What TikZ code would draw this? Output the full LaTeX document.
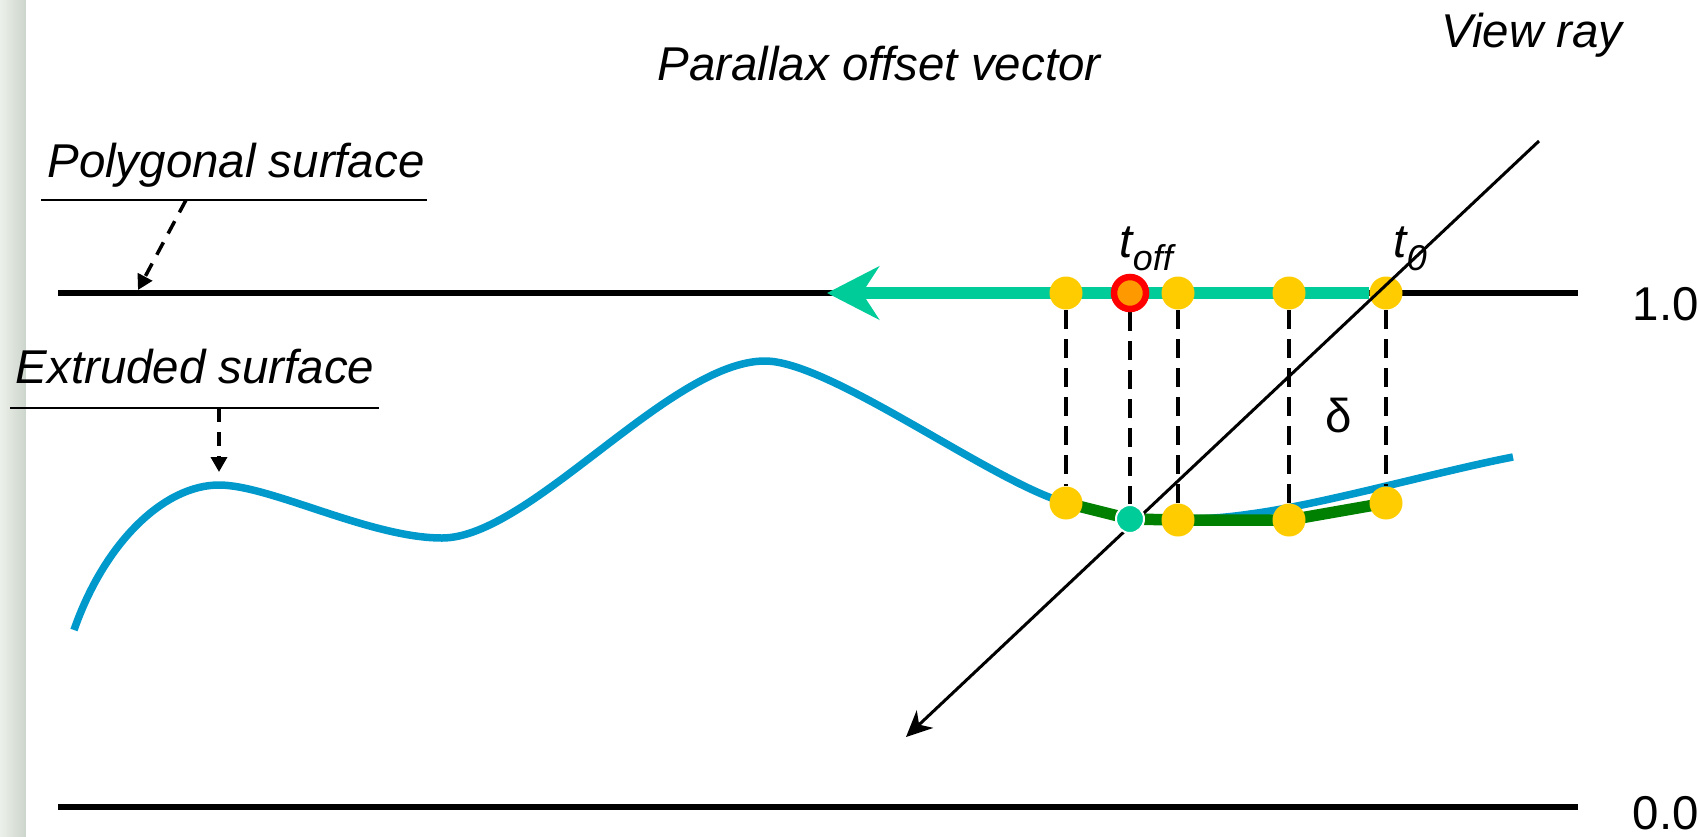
\documentclass[tikz,border=0pt]{standalone}
\usepackage{fontspec}
\setmainfont{Liberation Sans}
\usetikzlibrary{arrows.meta}

\definecolor{offsetgreen}{RGB}{0,204,153}
\definecolor{surfblue}{RGB}{0,153,204}
\definecolor{dotyellow}{RGB}{255,204,0}
\definecolor{dotorange}{RGB}{255,153,0}
\definecolor{stepgreen}{RGB}{0,128,0}
\definecolor{stripa}{RGB}{236,240,234}
\definecolor{stripb}{RGB}{204,213,203}

\pgfdeclarelayer{back}
\pgfsetlayers{back,main}

\begin{document}
\begin{tikzpicture}[
    txt/.style={font=\fontsize{13.5pt}{16pt}\selectfont, inner sep=0pt, anchor=base},
    itxt/.style={txt, font=\fontsize{13.5pt}{16pt}\selectfont\itshape},
    ydot/.style={circle, fill=dotyellow, inner sep=0pt, minimum size=0.33cm},
    rdot/.style={circle, draw=red, line width=0.065cm, fill=dotorange, inner sep=0pt, minimum size=0.32cm},
    cdot/.style={circle, draw=white, line width=0.02cm, fill=offsetgreen, inner sep=0pt, minimum size=0.28cm},
    drop/.style={line width=0.045cm, dash pattern=on 0.19cm off 0.1cm},
    hint/.style={line width=0.035cm, dash pattern=on 0.14cm off 0.1cm, -{Triangle[length=0.15cm, width=0.16cm]}},
    level/.style={line width=0.055cm},
    under/.style={line width=0.025cm}
  ]
  \useasboundingbox (0,0) rectangle (17,8.36);

  % slide edge
  \shade[left color=stripa, right color=stripb] (0,0) rectangle (0.26,8.36);

  % titles
  \node[itxt] (parallax) at (8.79,7.56) {Parallax offset vector};
  \node[itxt] (viewray) at (15.32,7.89) {View ray};
  \node[itxt] (polylbl) at (2.36,6.59) {Polygonal surface};
  \node[itxt] (extlbl) at (1.95,4.53) {Extruded surface};
  \node[txt, anchor=base west] (one) at (16.32,5.16) {1.0};
  \node[txt, anchor=base west] (zero) at (16.32,0.07) {0.0};

  % pointers to the surfaces
  \draw[under] (0.41,6.36) -- (4.27,6.36);
  \coordinate (polyfrom) at (1.86,6.36);
  \coordinate (polyto) at (1.38,5.46);
  \draw[hint] (polyfrom) -- (polyto);
  \draw[under] (0.10,4.28) -- (3.79,4.28);
  \coordinate (extfrom) at (2.19,4.28);
  \coordinate (extto) at (2.19,3.64);
  \draw[hint] (extfrom) -- (extto);

  % samples on the polygon and on the height field
  \foreach \n/\x in {1/10.66, 3/11.78, 4/12.89, 5/13.86}
    \node[ydot] (a\n) at (\x,5.43) {};
  \node[rdot] (toff) at (11.30,5.43) {};
  \foreach \n/\x/\y in {1/10.66/3.33, 3/11.78/3.16, 4/12.89/3.16, 5/13.86/3.33}
    \node[ydot] (b\n) at (\x,\y) {};

  % view ray
  \coordinate (raytop) at (15.39,6.95);
  \coordinate (rayend) at (9.06,0.99);
  \draw[line width=0.03cm, -{Stealth[length=0.26cm, width=0.24cm, inset=0.08cm]}] (raytop) -- (rayend);

  % hit point
  \node[cdot] (bc) at (11.30,3.17) {};

  \node[itxt, anchor=base west] (tofflbl) at (11.19,5.79) {t\raisebox{-0.13cm}{\fontsize{10.2pt}{12pt}\selectfont off}};
  \node[itxt, anchor=base west] (t0lbl) at (13.93,5.79) {t\raisebox{-0.13cm}{\fontsize{10.2pt}{12pt}\selectfont 0}};
  \node[txt] (delta) at (13.39,4.04) {δ};

  \begin{pgfonlayer}{back}
    % levels 1.0 and 0.0
    \draw[level] (0.58,5.43) -- (15.78,5.43);
    \draw[level] (0.58,0.29) -- (15.78,0.29);

    % extruded height field
    \draw[surfblue, line width=0.075cm]
      (0.74,2.06) .. controls (1.05,2.95) and (1.65,3.51) .. (2.19,3.51)
      .. controls (2.7,3.51) and (3.7,2.98) .. (4.42,2.98)
      .. controls (5.3,2.98) and (6.7,4.75) .. (7.65,4.75)
      .. controls (8.3,4.75) and (9.9,3.55) .. (10.66,3.33)
      .. controls (11.06,3.214) and (11.7,3.10) .. (12.5,3.22)
      .. controls (13.2,3.31) and (14.4,3.65) .. (15.13,3.79);

    % offset vector
    \coordinate (tip) at (8.27,5.43);
    \draw[offsetgreen, line width=0.12cm, -{Stealth[length=0.52cm, width=0.53cm, inset=0.17cm]}] (a5) -- (tip);

    % drops to the height field
    \foreach \n in {1,3,4,5}
      \draw[drop] (a\n) -- (b\n);
    \draw[drop] (toff) -- (bc);

    % linear steps
    \draw[stepgreen, line width=0.115cm, line join=round]
      (b1.center) -- (bc.center) -- (b3.center) -- (b4.center) -- (b5.center);
  \end{pgfonlayer}
\end{tikzpicture}
\end{document}
